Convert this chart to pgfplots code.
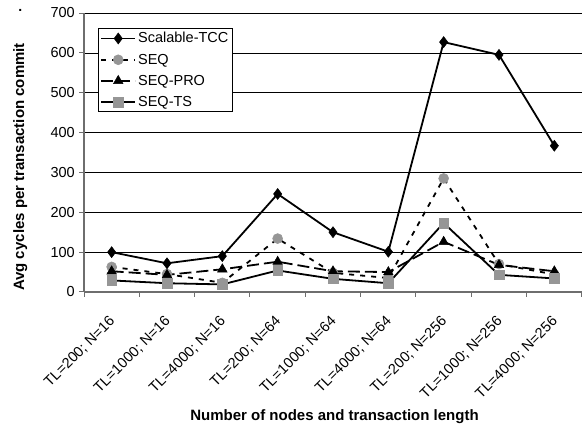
\documentclass[border=0pt]{standalone}
\usepackage{pgfplots}
\pgfplotsset{compat=1.18}
\usepackage{fontspec}
\setmainfont{Liberation Sans}
\definecolor{mgray}{RGB}{150,150,150}
\definecolor{axgray}{RGB}{110,110,110}
\begin{document}
\begin{tikzpicture}
\useasboundingbox (0pt,0pt) rectangle (582pt,433pt);
\begin{axis}[
  at={(84pt,141pt)}, anchor=south west,
  scale only axis, width=498pt, height=279pt,
  xmin=-0.5, xmax=8.5, ymin=0, ymax=700,
  axis x line*=bottom, axis y line*=left,
  axis line style={draw=axgray, line width=1.3pt, -},
  ytick={0,100,...,700},
  xtick={0,...,8},
  xticklabels={{TL=200; N=16},{TL=1000; N=16},{TL=4000; N=16},{TL=200; N=64},{TL=1000; N=64},{TL=4000; N=64},{TL=200; N=256},{TL=1000; N=256},{TL=4000; N=256}},
  minor xtick={-0.5,0.5,...,8.5},
  tick align=outside,
  major x tick style={draw=none},
  minor x tick style={draw=axgray, line width=1pt},
  minor tick length=5pt,
  major tick length=5pt,
  y tick style={draw=axgray, line width=1pt},
  ymajorgrids=true,
  grid style={black, line width=0.6pt},
  /pgf/number format/assume math mode=true,
  tick label style={font=\fontsize{14.5}{16}\selectfont},
  yticklabel style={inner sep=4pt},
  xticklabel style={inner sep=0pt, yshift=-22pt, xshift=1pt, rotate=45, anchor=east},
  xlabel={Number of nodes and transaction length},
  ylabel={Avg cycles per transaction commit},
  label style={font=\bfseries\fontsize{15}{17}\selectfont},
  xlabel style={at={(axis description cs:0.503,-0.448)}, anchor=center},
  ylabel style={at={(axis description cs:-0.128,0.448)}, anchor=center},
  legend style={at={(axis description cs:0.028,0.946)}, anchor=north west,
    font=\fontsize{14.5}{16}\selectfont, draw=black, line width=0.8pt,
    row sep=5.5pt, inner sep=2pt, cells={anchor=west}},
  legend image code/.code={
    \draw[mark repeat=2,mark phase=2] plot coordinates {(0pt,0pt) (17pt,0pt) (34pt,0pt)};
  },
  clip=false,
]
\addplot[black, line width=1.8pt, mark=diamond*, mark size=5.5pt, mark options={solid, fill=black, line width=0.5pt}]
  coordinates {(0,100) (1,72) (2,90) (3,246) (4,150) (5,101) (6,627) (7,595) (8,367)};
\addlegendentry{Scalable-TCC}
\addplot[black, line width=1.8pt, dash pattern=on 5pt off 6pt, mark=*, mark size=5pt, mark options={solid, fill=mgray, draw=mgray, line width=0.5pt}]
  coordinates {(0,63) (1,45) (2,23) (3,134) (4,48) (5,35) (6,285) (7,70) (8,44)};
\addlegendentry{SEQ}
\addplot[black, line width=1.8pt, dash pattern=on 12pt off 5pt, mark=triangle*, mark size=5.5pt, mark options={solid, fill=black, line width=0.5pt}]
  coordinates {(0,52) (1,43) (2,57) (3,76) (4,52) (5,50) (6,126) (7,68) (8,52)};
\addlegendentry{SEQ-PRO}
\addplot[black, line width=1.8pt, mark=square*, mark size=4.8pt, mark options={solid, fill=mgray, draw=mgray, line width=0.5pt}]
  coordinates {(0,29) (1,22) (2,19) (3,54) (4,33) (5,22) (6,173) (7,43) (8,34)};
\addlegendentry{SEQ-TS}
\node[font=\bfseries\fontsize{14}{16}\selectfont] at (axis description cs:-0.128,1.01) {.};
\end{axis}
\end{tikzpicture}
\end{document}
